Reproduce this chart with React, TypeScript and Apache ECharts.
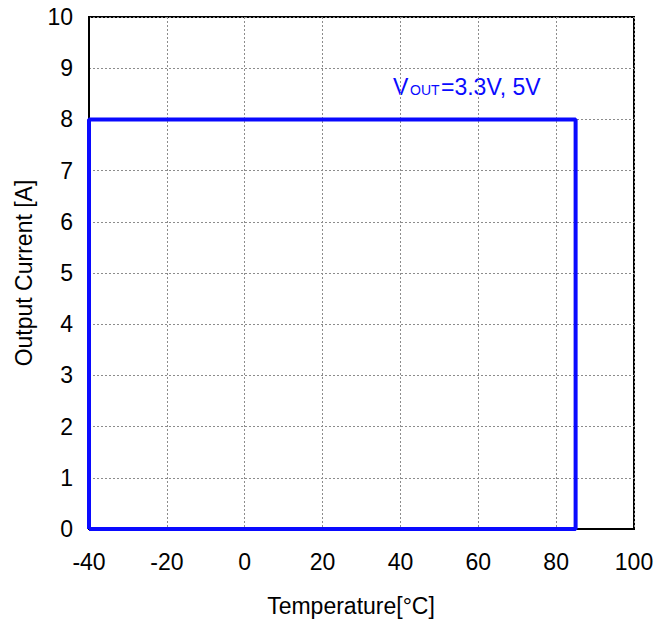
import React, { useEffect, useRef } from "react";
import * as echarts from "echarts";

const xTicks = [-40, -20, 0, 20, 40, 60, 80, 100];
const yTicks = [0, 1, 2, 3, 4, 5, 6, 7, 8, 9, 10];
const deratingX = [-40, -40, 85, 85, -40];
const deratingY = [0, 8, 8, 0, 0];
const labelMain = "V";
const labelSub = "OUT";
const labelRest = "=3.3V, 5V";
const xTitle = "Temperature[°C]";
const yTitle = "Output Current [A]";

export default function App() {
  const ref = useRef<HTMLDivElement>(null);
  useEffect(() => {
    if (!ref.current) return;
    const chart = echarts.init(ref.current, null, { renderer: "svg" });
    const font = "'Liberation Sans', Arial, sans-serif";
    const data = deratingX.map((x, i) => [x, deratingY[i]]);
    const blue = "#0a0aff";
    const fs = 23;
    chart.setOption({
      animation: false,
      backgroundColor: "#ffffff",
      grid: {
        left: 89,
        top: 17,
        width: 545,
        height: 512,
        show: true,
        borderColor: "#000000",
        borderWidth: 2,
        backgroundColor: "transparent",
      },
      xAxis: {
        type: "value",
        min: xTicks[0],
        max: xTicks[xTicks.length - 1],
        interval: 20,
        axisLine: { show: true, onZero: false, lineStyle: { color: "#000", width: 2 } },
        axisTick: { show: false },
        splitLine: { show: true, lineStyle: { color: "#8c8c8c", width: 1, type: [2, 2] } },
        axisLabel: { color: "#000", fontSize: fs, fontFamily: font, margin: 21 },
      },
      yAxis: {
        type: "value",
        min: yTicks[0],
        max: yTicks[yTicks.length - 1],
        interval: 1,
        axisLine: { show: true, onZero: false, lineStyle: { color: "#000", width: 2 } },
        axisTick: { show: false },
        splitLine: { show: true, lineStyle: { color: "#8c8c8c", width: 1, type: [2, 2] } },
        axisLabel: { color: "#000", fontSize: fs, fontFamily: font, margin: 16 },
      },
      series: [
        {
          type: "line",
          data,
          symbol: "none",
          lineStyle: { color: blue, width: 4 },
          z: 5,
        },
      ],
      graphic: [
        {
          type: "text",
          x: 393,
          y: 87,
          style: { text: labelMain, fontSize: fs, fontFamily: font, fill: blue, verticalAlign: "middle" },
        },
        {
          type: "text",
          x: 410,
          y: 90,
          style: { text: labelSub, fontSize: 14, fontFamily: font, fill: blue, verticalAlign: "middle" },
        },
        {
          type: "text",
          x: 441,
          y: 87,
          style: { text: labelRest, fontSize: fs, fontFamily: font, fill: blue, verticalAlign: "middle" },
        },
        {
          type: "text",
          x: 351,
          y: 606,
          style: {
            text: xTitle,
            fontSize: fs,
            fontFamily: font,
            fill: "#000",
            align: "center",
            verticalAlign: "middle",
          },
        },
        {
          type: "text",
          x: 24,
          y: 273,
          rotation: Math.PI / 2,
          style: {
            text: yTitle,
            fontSize: fs,
            fontFamily: font,
            fill: "#000",
            align: "center",
            verticalAlign: "middle",
          },
        },
      ],
    });
    return () => chart.dispose();
  }, []);
  return (
    <div
      ref={ref}
      style={{ position: "absolute", left: 0, top: 0, width: 670, height: 623 }}
    />
  );
}
